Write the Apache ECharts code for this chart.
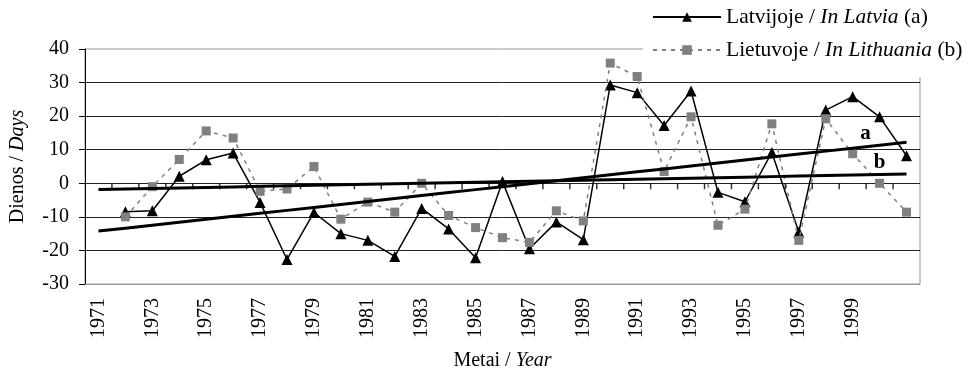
<!DOCTYPE html>
<html>
<head>
<meta charset="utf-8">
<script src="https://cdn.jsdelivr.net/npm/echarts@6/dist/echarts.min.js"></script>
<style>
  html, body { margin: 0; padding: 0; background: #fff; }
  #chart { width: 973px; height: 378px; }
</style>
</head>
<body>
<div id="chart"></div>
<script>
// Years on the category axis (1971 has no observation)
const years = [];
for (let y = 1971; y <= 2001; y++) years.push(String(y));

// Deviation in days, Latvia (a)
const latvia = [null,
  -8.5, -8.2, 2.1, 7.0, 9.0, -5.7, -22.7, -8.7, -15.0, -17.0,
  -21.8, -7.5, -13.6, -22.2, 0.5, -19.5, -11.5, -16.8, 29.3, 27.0,
  17.2, 27.5, -2.7, -5.5, 9.2, -14.5, 21.8, 25.8, 19.8, 8.2];

// Deviation in days, Lithuania (b)
const lithuania = [null,
  -10.0, -1.0, 7.1, 15.6, 13.5, -2.4, -1.7, 5.0, -10.7, -5.6,
  -8.6, 0.0, -9.6, -13.2, -16.2, -17.6, -8.2, -11.2, 35.8, 31.8,
  3.5, 19.8, -12.5, -7.7, 17.7, -17.0, 19.2, 8.8, 0.0, -8.6];

const yTicks = { min: -30, max: 40, step: 10 };

const FONT = 'Liberation Serif';

// Least-squares linear trend over category index, evaluated on every category
function linearTrend(values) {
  const pts = [];
  values.forEach((v, i) => { if (v != null) pts.push([i, v]); });
  const n = pts.length;
  const mx = pts.reduce((s, p) => s + p[0], 0) / n;
  const my = pts.reduce((s, p) => s + p[1], 0) / n;
  let sxy = 0, sxx = 0;
  pts.forEach(p => { sxy += (p[0] - mx) * (p[1] - my); sxx += (p[0] - mx) * (p[0] - mx); });
  const slope = sxy / sxx;
  const icpt = my - slope * mx;
  return values.map((_, i) => +(icpt + slope * i).toFixed(3));
}

// Trend values with the series tag ("a" / "b") attached near the right end
function trendData(values, tag, offset) {
  const t = linearTrend(values);
  return t.map((v, i) => i === t.length - 2
    ? { value: v, label: { show: true, formatter: tag, position: 'top', offset: offset,
        fontFamily: FONT, fontSize: 21, fontWeight: 'bold', color: '#000' } }
    : v);
}

// Year boundaries (between consecutive categories) for the ticks on the zero line
const boundaries = years.slice(1).map((_, i) => [i + 0.5, 0]);

const legendText = {
  'Latvia': 'Latvijoje / {i|In Latvia} (a)',
  'Lithuania': 'Lietuvoje / {i|In Lithuania} (b)'
};

const italic = (size) => ({ i: { fontFamily: FONT, fontSize: size, fontStyle: 'italic', color: '#000' } });

const chart = echarts.init(document.getElementById('chart'));
chart.setOption({
  animation: false,
  backgroundColor: '#fff',
  textStyle: { fontFamily: FONT, color: '#000' },
  grid: {
    left: 85, right: 53, top: 49, bottom: 94,
    outerBoundsMode: 'none', containLabel: false,
    show: true, borderColor: '#999', borderWidth: 1, backgroundColor: 'transparent'
  },
  legend: {
    data: ['Latvia', 'Lithuania'],
    orient: 'vertical',
    left: 643, top: 0,
    padding: [6, 10, 16, 9],
    backgroundColor: '#fff',
    itemWidth: 68, itemHeight: 12, itemGap: 11,
    formatter: name => legendText[name],
    textStyle: {
      fontFamily: FONT, fontSize: 21.5, color: '#000', lineHeight: 22,
      rich: italic(21.5)
    }
  },
  xAxis: [
    {
      type: 'category', data: years, boundaryGap: true, position: 'bottom',
      axisLine: { onZero: false, lineStyle: { color: '#999', width: 1 } },
      axisTick: { show: false },
      axisLabel: {
        rotate: 90, margin: 14, fontFamily: FONT, fontSize: 20, color: '#000',
        interval: (i) => i % 2 === 0 && i < years.length - 1
      },
      splitLine: { show: false },
      name: 'Metai / {i|Year}', nameLocation: 'middle', nameGap: 67,
      nameTextStyle: { fontFamily: FONT, fontSize: 20, color: '#000', rich: italic(20) }
    },
    {
      // hidden ordinal axis spanning the same bands, used to place the zero-line ticks
      type: 'value', min: -0.5, max: years.length - 0.5, show: false,
      axisLine: { onZero: false }
    }
  ],
  yAxis: {
    type: 'value', min: yTicks.min, max: yTicks.max, interval: yTicks.step,
    axisLine: { show: true, onZero: false, lineStyle: { color: '#000', width: 1 } },
    axisTick: { show: true, length: 6, lineStyle: { color: '#000', width: 1 } },
    axisLabel: { margin: 16, fontFamily: FONT, fontSize: 20, color: '#000' },
    splitLine: { show: true, showMinLine: false, showMaxLine: false, lineStyle: { color: '#222', width: 1 } },
    name: 'Dienos / {i|Days}', nameLocation: 'middle', nameRotate: 90, nameGap: 57,
    nameTextStyle: { fontFamily: FONT, fontSize: 20, color: '#000', rich: italic(20) }
  },
  series: [
    {
      name: 'zero ticks', type: 'scatter', xAxisIndex: 1, silent: true,
      data: boundaries,
      symbol: 'rect', symbolSize: [1.5, 6], symbolOffset: [0, 3],
      itemStyle: { color: '#000' },
      z: 6
    },
    {
      name: 'Latvia', type: 'line', data: latvia,
      symbol: 'triangle', symbolSize: 11,
      lineStyle: { color: '#000', width: 1.5 },
      itemStyle: { color: '#000' },
      z: 3
    },
    {
      name: 'Lithuania', type: 'line', data: lithuania,
      symbol: 'rect', symbolSize: 9,
      lineStyle: { color: '#808080', width: 1.5, type: [4, 5] },
      itemStyle: { color: '#808080' },
      z: 4
    },
    {
      name: 'trend a', type: 'line', data: trendData(latvia, 'a', [-14, 4]),
      symbol: 'circle', symbolSize: 0, showSymbol: true, silent: true,
      lineStyle: { color: '#000', width: 3 },
      itemStyle: { color: '#000' },
      z: 5
    },
    {
      name: 'trend b', type: 'line', data: trendData(lithuania, 'b', [0, 4]),
      symbol: 'circle', symbolSize: 0, showSymbol: true, silent: true,
      lineStyle: { color: '#000', width: 3 },
      itemStyle: { color: '#000' },
      z: 5
    }
  ]
});
</script>
</body>
</html>
